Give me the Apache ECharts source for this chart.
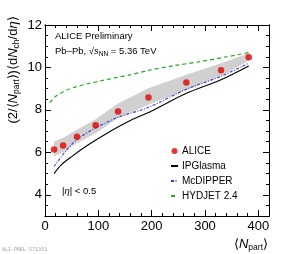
<!DOCTYPE html>
<html>
<head>
<meta charset="utf-8">
<script src="https://cdn.jsdelivr.net/npm/echarts@6/dist/echarts.min.js"></script>
<style>
html,body{margin:0;padding:0;background:#fff;}
#c{width:300px;height:254px;}
</style>
</head>
<body>
<div id="c"></div>
<script>
// ---- data ----
const nPart      = [17, 34, 60, 95, 137, 194, 265, 330, 382];
const aliceVals  = [6.13, 6.32, 6.74, 7.28, 7.92, 8.58, 9.29, 9.87, 10.48];
const bandLow    = [5.80, 6.02, 6.43, 6.90, 7.62, 8.24, 8.94, 9.60, 10.32];
const bandHigh   = [6.51, 6.68, 7.06, 7.56, 8.30, 9.02, 9.65, 10.20, 10.67];

const ipgX = [17, 30, 50, 75, 100, 130, 160, 200, 265, 330, 382];
const ipgY = [5.0, 5.4, 5.8, 6.25, 6.65, 7.1, 7.5, 7.95, 8.78, 9.42, 10.07];

const mcdX = [17, 37, 60, 94, 137, 194, 265, 330, 382];
const mcdY = [5.33, 6.0, 6.6, 7.14, 7.65, 8.12, 8.97, 9.58, 10.2];

const hydX = [9, 19, 31, 41, 56, 78, 103, 128, 159, 196, 243, 290, 336, 382];
const hydY = [8.34, 8.62, 8.81, 8.94, 9.07, 9.22, 9.36, 9.49, 9.65, 9.87, 10.09, 10.27, 10.48, 10.70];

const xMajorTicks = [0, 100, 200, 300, 400];
const yMajorTicks = [4, 6, 8, 10, 12];
const legendNames = ['ALICE', 'IPGlasma', 'McDIPPER', 'HYDJET 2.4'];

// ---- chart ----
const FONT = "'Liberation Sans', Arial, Helvetica, sans-serif";
const zip = (a, b) => a.map((v, i) => [v, b[i]]);
const axisLine = {show: true, onZero: false, lineStyle: {color: '#000', width: 1}};
const tickStyle = {color: '#000', width: 1};

function xAx(pos, major) {
  const o = {type: 'value', min: 0, max: 420, position: pos,
    axisLine: axisLine, splitLine: {show: false},
    axisTick: {show: true, inside: true, length: major ? 6 : 3, lineStyle: tickStyle},
    axisLabel: {show: false}};
  if (major) {
    o.axisTick.customValues = xMajorTicks;
    if (pos === 'bottom') o.axisLabel = {show: true, customValues: xMajorTicks, fontSize: 13, margin: 4, color: '#000', fontFamily: FONT};
  } else {
    o.interval = 20;
  }
  return o;
}
function yAx(pos, major) {
  const o = {type: 'value', min: 3, max: 12, position: pos,
    axisLine: axisLine, splitLine: {show: false},
    axisTick: {show: true, inside: true, length: major ? 6 : 3, lineStyle: tickStyle},
    axisLabel: {show: false}};
  if (major) {
    o.axisTick.customValues = yMajorTicks;
    if (pos === 'left') o.axisLabel = {show: true, customValues: yMajorTicks, fontSize: 13, margin: 3, color: '#000', fontFamily: FONT};
  } else {
    o.interval = 0.5;
  }
  return o;
}

function renderBand(params, api) {
  if (params.dataIndex !== 0) return null;
  const upper = nPart.map((x, i) => api.coord([x, bandHigh[i]]));
  const lower = nPart.map((x, i) => api.coord([x, bandLow[i]])).reverse();
  return {type: 'polygon', shape: {points: upper.concat(lower)}, style: {fill: '#d0d0d0', stroke: null}};
}

const hideSym = {opacity: 0};
const chart = echarts.init(document.getElementById('c'), null, {renderer: 'canvas'});
chart.setOption({
  animation: false,
  backgroundColor: '#fff',
  grid: {left: 45, right: 31, top: 25, bottom: 38, containLabel: false},
  xAxis: [xAx('bottom', true), xAx('bottom', false), xAx('top', true), xAx('top', false)],
  yAxis: [yAx('left', true), yAx('left', false), yAx('right', true), yAx('right', false)],
  legend: {
    data: [
      {name: legendNames[0]},
      {name: legendNames[1], itemStyle: hideSym},
      {name: legendNames[2], itemStyle: hideSym},
      {name: legendNames[3], itemStyle: hideSym}
    ],
    orient: 'vertical', left: 170, top: 145, padding: 0,
    itemWidth: 7, itemHeight: 6, itemGap: 3,
    textStyle: {fontSize: 10, fontFamily: FONT, color: '#000', lineHeight: 12, padding: [0, 0, 0, -1]}
  },
  series: [
    {name: 'band', type: 'custom', data: nPart.map((x, i) => [x, bandLow[i], bandHigh[i]]),
      renderItem: renderBand, silent: true, z: 1, encode: {x: 0, y: [1, 2]}},
    {name: 'IPGlasma', type: 'line', data: zip(ipgX, ipgY), symbol: 'none', smooth: 0.3,
      color: '#000', lineStyle: {color: '#000', width: 1.1}, z: 3},
    {name: 'McDIPPER', type: 'line', data: zip(mcdX, mcdY), symbol: 'none', smooth: 0.3,
      color: '#3838d0', lineStyle: {color: '#3838d0', width: 1.1, type: [3, 1.5, 1, 1.5]}, z: 3},
    {name: 'HYDJET 2.4', type: 'line', data: zip(hydX, hydY), symbol: 'none', smooth: 0.3,
      color: '#2aa52a', lineStyle: {color: '#2aa52a', width: 1.2, type: [4, 3]}, z: 3},
    {name: 'ALICE', type: 'scatter', data: zip(nPart, aliceVals), symbol: 'circle', symbolSize: 6.5,
      itemStyle: {color: '#e00000'}, z: 5}
  ],
  graphic: [
    {type: 'text', x: 55, y: 36.5, style: {text: 'ALICE Preliminary', font: '9.5px ' + FONT, fill: '#000', textVerticalAlign: 'middle'}},
    {type: 'text', x: 55, y: 51.5, style: {
      text: 'Pb–Pb, √{it|s}{sub|NN} = 5.36 TeV', font: '9.5px ' + FONT, fill: '#000', textVerticalAlign: 'middle',
      rich: {it: {fontStyle: 'italic', fontSize: 9.5, fontFamily: FONT}, sub: {fontSize: 6.5, fontFamily: FONT, padding: [5, 0, 0, 0]}}}},
    {type: 'text', x: 62, y: 191.5, style: {text: '|{it|η}| < 0.5', font: '9.5px ' + FONT, fill: '#000', textVerticalAlign: 'middle',
      rich: {it: {fontStyle: 'italic', fontSize: 9.5, fontFamily: FONT}}}},
    {type: 'text', x: 13, y: 70, rotation: Math.PI / 2, style: {
      text: '(2/⟨{it|N}{sub|part}⟩)⟨d{it|N}{sub|ch}/d{it|η}⟩', font: '13px ' + FONT, fill: '#000',
      textAlign: 'center', textVerticalAlign: 'middle',
      rich: {it: {fontStyle: 'italic', fontSize: 13, fontFamily: FONT}, sub: {fontSize: 8.5, fontFamily: FONT, padding: [7, 0, 0, 0]}}}},
    {type: 'text', x: 268, y: 244, style: {
      text: '⟨{it|N}{sub|part}⟩', font: '13px ' + FONT, fill: '#000', textAlign: 'right', textVerticalAlign: 'middle',
      rich: {it: {fontStyle: 'italic', fontSize: 13, fontFamily: FONT}, sub: {fontSize: 8.5, fontFamily: FONT, padding: [7, 0, 0, 0]}}}},
    {type: 'text', x: 2, y: 250, style: {text: 'ALI-PREL-571351', font: '5px "DejaVu Sans Mono", monospace', fill: '#999', textVerticalAlign: 'middle'}}
  ]
});
</script>
</body>
</html>
